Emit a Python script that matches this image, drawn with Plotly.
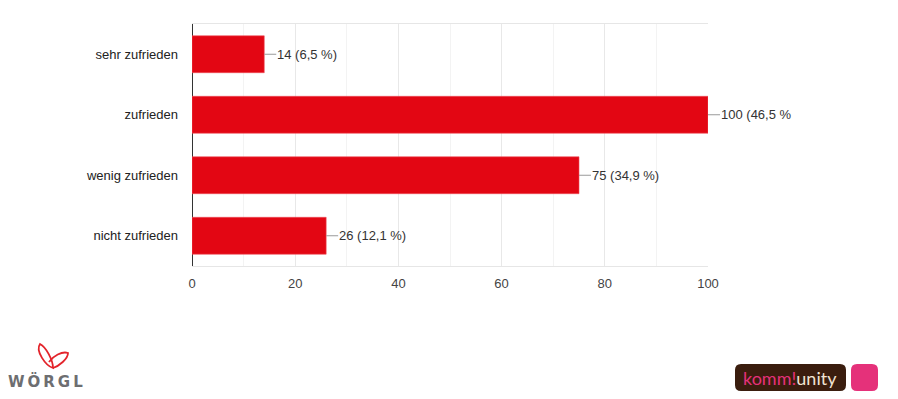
import plotly.graph_objects as go

categories = ["sehr zufrieden", "zufrieden", "wenig zufrieden", "nicht zufrieden"]
counts = [14, 100, 75, 26]
labels = ["14 (6,5 %)", "100 (46,5 %", "75 (34,9 %)", "26 (12,1 %)"]
x_ticks = [0, 20, 40, 60, 80, 100]

# page has an 8px body margin; work in page coordinates and convert
OFF = 8
W, H = 898 - OFF, 399 - OFF
PL, PR, PT, PB = 192, 708, 24, 266          # plot box in page pixels
ML, MT = PL - OFF, PT - OFF
MR, MB = W - (PR - OFF), H - (PB - OFF)
PW, PH = PR - PL, PB - PT

def px(X):
    return (X - PL) / PW

def py(Y):
    return (PB - Y) / PH

def P(X, Y):
    return f"{X - PL},{PB - Y}"

BAR = "#e30613"
FONT = "Liberation Sans, Arial, sans-serif"

fig = go.Figure()
fig.add_trace(go.Bar(
    x=counts, y=categories, orientation="h",
    marker=dict(color=BAR, line=dict(color="#ef4d57", width=0.6)),
    hoverinfo="skip",
))

annotations = []
for c, v, t in zip(categories, counts, labels):
    annotations.append(dict(
        x=v, y=c, xref="x", yref="y", text=t, showarrow=True,
        arrowhead=0, arrowwidth=1, arrowcolor="#9a9a9a",
        ax=12, ay=0, xanchor="left", yanchor="middle",
        font=dict(size=13, color="#333333", family=FONT),
        borderpad=0,
    ))

annotations.append(dict(
    x=px(45), y=py(381), xref="paper", yref="paper",
    text="W\u2009Ö\u2009R\u2009G\u2009L",
    showarrow=False, xanchor="center", yanchor="middle",
    font=dict(size=15, color="#6d6e71", family="DejaVu Sans, sans-serif", weight=600),
))
annotations.append(dict(
    x=px(790), y=py(378), xref="paper", yref="paper",
    text="<span style='color:#e5317a'>komm!</span><span style='color:#f1e3d3'>unity</span>",
    showarrow=False, xanchor="center", yanchor="middle",
    font=dict(size=18, family="Lato, Open Sans, sans-serif"),
))

def rr(x0, y0, x1, y1, r):
    return (f"M {P(x0 + r, y0)} L {P(x1 - r, y0)} Q {P(x1, y0)} {P(x1, y0 + r)} "
            f"L {P(x1, y1 - r)} Q {P(x1, y1)} {P(x1 - r, y1)} L {P(x0 + r, y1)} "
            f"Q {P(x0, y1)} {P(x0, y1 - r)} L {P(x0, y0 + r)} Q {P(x0, y0)} {P(x0 + r, y0)} Z")

shape_common = dict(xref="paper", yref="paper", xsizemode="pixel", ysizemode="pixel",
                    xanchor=0, yanchor=0, layer="above")
shapes = [
    dict(type="path", path=rr(735, 364, 846, 391, 6), fillcolor="#3a1d0e",
         line=dict(width=0), **shape_common),
    dict(type="path", path=rr(851, 364, 878, 391, 6), fillcolor="#e5317a",
         line=dict(width=0), **shape_common),
    dict(type="path",
         path=f"M {P(40,344)} C {P(35,351)} {P(46,366)} {P(53,368)} C {P(53,360)} {P(46,347)} {P(40,344)} Z",
         line=dict(color="#e3242b", width=1.8), **shape_common),
    dict(type="path",
         path=f"M {P(53,368)} C {P(59,366)} {P(68,359)} {P(68,353)} C {P(62,351)} {P(53,356)} {P(49,362)}",
         line=dict(color="#e3242b", width=1.8), **shape_common),
]

fig.update_layout(
    width=W, height=H,
    margin=dict(l=ML, r=MR, t=MT, b=MB, pad=0),
    paper_bgcolor="white", plot_bgcolor="white",
    showlegend=False, bargap=0.39,
    annotations=annotations, shapes=shapes,
    xaxis=dict(
        range=[0, 100], tickvals=x_ticks, ticktext=[str(t) for t in x_ticks],
        showgrid=True, gridcolor="#e8e8e8", gridwidth=1,
        minor=dict(dtick=10, showgrid=True, gridcolor="#f3f3f3", tick0=0),
        zeroline=True, zerolinecolor="#333333", zerolinewidth=1,
        showline=True, linecolor="#e6e6e6", linewidth=1, mirror=True,
        ticks="", ticklabelstandoff=5,
        tickfont=dict(size=13, color="#444444", family=FONT),
        fixedrange=True,
    ),
    yaxis=dict(
        autorange="reversed", showgrid=False, zeroline=False, showline=False,
        ticks="", ticklabelstandoff=13,
        tickfont=dict(size=13, color="#222222", family=FONT),
        fixedrange=True,
    ),
)

fig.write_html("out.html", config={"displayModeBar": False})
